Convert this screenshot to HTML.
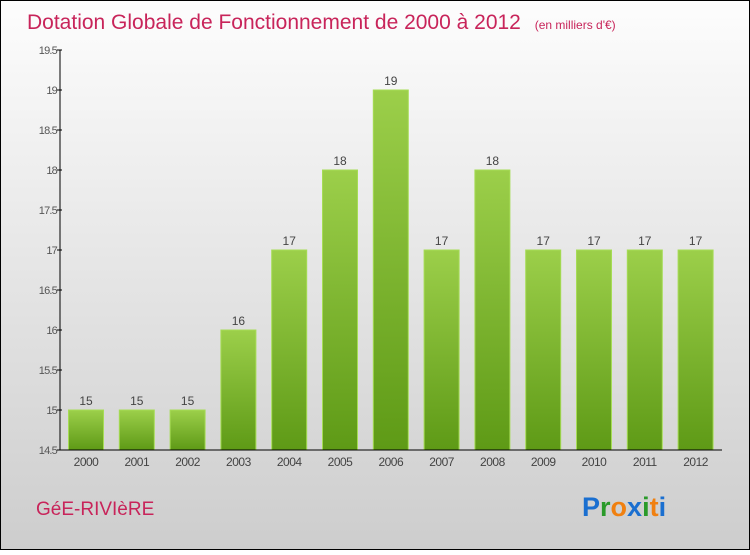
<!DOCTYPE html>
<html><head><meta charset="utf-8"><style>
html,body{margin:0;padding:0}
body{width:750px;height:550px;overflow:hidden;font-family:"Liberation Sans",sans-serif}
</style></head><body>
<svg width="750" height="550" xmlns="http://www.w3.org/2000/svg">
<defs>
<linearGradient id="bg" x1="0" y1="0" x2="0" y2="1"><stop offset="0" stop-color="#fdfdfd"/><stop offset="1" stop-color="#cdcdcd"/></linearGradient>
<linearGradient id="bar" x1="0" y1="0" x2="0" y2="1"><stop offset="0" stop-color="#9ccf4a"/><stop offset="1" stop-color="#5e9a16"/></linearGradient>
</defs>
<rect x="0.5" y="0.5" width="749" height="549" fill="url(#bg)" stroke="#000"/>
<text x="27" y="29" font-size="21" fill="#c8245a">Dotation Globale de Fonctionnement de 2000 à 2012 <tspan font-size="12" dx="8">(en milliers d'€)</tspan></text>
<g id="yaxis"></g>
<g id="bars"></g>
<g id="xaxis"></g>
<text x="36" y="515" font-size="19" fill="#c8245a">GéE-RIVIèRE</text>
<text x="582" y="516" font-size="27" font-weight="bold"><tspan fill="#1a6fd0">P</tspan><tspan fill="#2a9a2a">r</tspan><tspan fill="#f08010">o</tspan><tspan fill="#1a6fd0">x</tspan><tspan fill="#2a9a2a">i</tspan><tspan fill="#f08010">t</tspan><tspan fill="#1a6fd0">i</tspan></text>
</svg>
<script>
const categories=["2000","2001","2002","2003","2004","2005","2006","2007","2008","2009","2010","2011","2012"];
const values=[15,15,15,16,17,18,19,17,18,17,17,17,17];
const yTicks=[14.5,15,15.5,16,16.5,17,17.5,18,18.5,19,19.5];
const NS="http://www.w3.org/2000/svg";
const yMin=14.5,yMax=19.5,top_=50,bot=450,left=60,right=722;
function y(v){return bot-(v-yMin)/(yMax-yMin)*(bot-top_);}
const step=50.8,first=86,bw=35;
function xc(i){return first+i*step;}
function mk(t,a,p){const e=document.createElementNS(NS,t);for(const k in a)e.setAttribute(k,a[k]);p.appendChild(e);return e;}
const ya=document.getElementById('yaxis'),xa=document.getElementById('xaxis'),bg=document.getElementById('bars');
const ax=mk('line',{x1:left,y1:top_,x2:left,y2:bot,stroke:'#000'},ya);


yTicks.forEach(t=>{
 const l=mk('line',{x1:left-3,x2:left+2,y1:y(t),y2:y(t),stroke:'#000'},ya);
 
 
 const tx=mk('text',{x:left-3,y:y(t)+4,'font-size':11,fill:'#555','text-anchor':'end','letter-spacing':'-0.8'},ya);
 tx.textContent=String(t);
 
 
});
values.forEach((v,i)=>{
 const r=mk('rect',{x:xc(i)-bw/2,y:y(v),width:bw,height:bot-y(v),fill:'url(#bar)',stroke:'#a6dc55','stroke-width':1},bg);
 
 
 const t=mk('text',{x:xc(i),y:y(v)-5,'font-size':12,fill:'#444','text-anchor':'middle'},bg);
 t.textContent=String(v);
 
 
});
const xl=mk('line',{x1:left,y1:bot,x2:right,y2:bot,stroke:'#000'},xa);


categories.forEach((c,i)=>{
 const t=mk('text',{x:xc(i),y:bot+16,'font-size':12,fill:'#444','text-anchor':'middle','letter-spacing':'-0.5'},xa);
 t.textContent=c;
 
 
});
</script>
</body></html>
